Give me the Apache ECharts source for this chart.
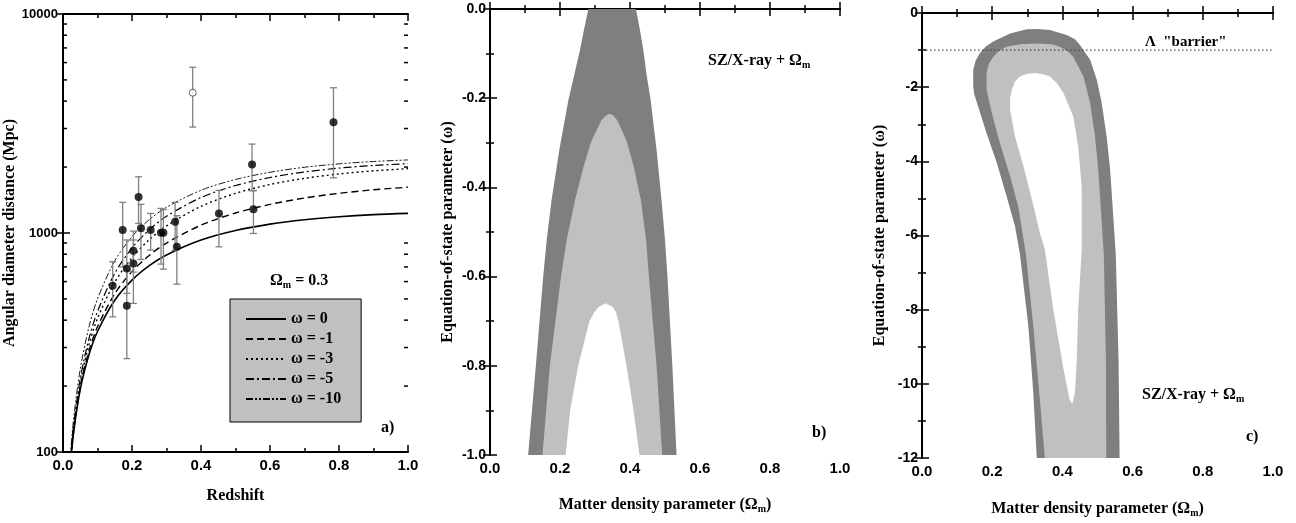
<!DOCTYPE html>
<html><head><meta charset="utf-8">
<script src="https://cdn.jsdelivr.net/npm/echarts@6/dist/echarts.min.js"></script>
<style>html,body{margin:0;padding:0;background:#fff}#c{width:1296px;height:523px}</style>
</head><body><div id="c"></div>
<script>
// ---------- Panel a: angular diameter distance vs redshift ----------
const zGrid = [0.02,0.03,0.05,0.075,0.1,0.15,0.2,0.25,0.3,0.4,0.5,0.6,0.7,0.8,0.9,1.0];
const dW0  = [81,120,193,277,355,493,609,709,794,928,1026,1098,1150,1187,1213,1229];
const dW1  = [82,121,197,288,373,528,667,790,900,1086,1234,1351,1444,1518,1575,1619];
const dW3  = [84,125,207,308,407,596,771,932,1077,1324,1517,1665,1777,1861,1923,1967];
const dW5  = [85,129,216,328,438,654,854,1034,1193,1452,1647,1792,1899,1978,2034,2073];
const dW10 = [90,138,239,371,500,746,963,1150,1311,1567,1756,1894,1996,2069,2121,2156];
const curveNames = ['ω = 0','ω = -1','ω = -3','ω = -5','ω = -10'];

const clusterZ  = [0.144,0.173,0.185,0.185,0.204,0.204,0.219,0.226,0.254,0.284,0.291,0.325,0.330,0.452,0.548,0.552,0.784];
const clusterD  = [574,1031,689,465,829,726,1459,1050,1031,1002,1002,1125,865,1229,2057,1282,3200];
const clusterLo = [414,700,530,267,663,477,1106,757,835,721,684,835,584,865,1560,995,1787];
const clusterHi = [739,1380,929,677,1020,929,1806,1351,1229,1295,1280,1380,1200,1565,2547,1560,4605];
const outlierZ = [0.376], outlierD = [4370], outlierLo = [3047], outlierHi = [5710];

const logMinorTicks = [200,300,400,500,600,700,800,900,2000,3000,4000,5000,6000,7000,8000,9000];

// ---------- Panel b: (Omega_m, w) confidence regions ----------
const bOuter = [[0.109,-1],[0.131,-0.8],[0.152,-0.6],[0.162,-0.518],[0.176,-0.428],[0.198,-0.316],[0.224,-0.204],[0.24,-0.15],[0.257,-0.092],[0.269,-0.045],[0.281,0],
                [0.417,0],[0.428,-0.045],[0.438,-0.092],[0.448,-0.15],[0.459,-0.204],[0.476,-0.316],[0.49,-0.428],[0.50,-0.518],[0.507,-0.6],[0.521,-0.8],[0.533,-1]];
const bMiddle = [[0.150,-1],[0.171,-0.8],[0.203,-0.6],[0.219,-0.518],[0.243,-0.428],[0.267,-0.354],[0.288,-0.3],[0.30,-0.279],[0.318,-0.25],[0.33,-0.24],[0.341,-0.235],
                 [0.352,-0.238],[0.364,-0.25],[0.381,-0.279],[0.392,-0.3],[0.411,-0.354],[0.431,-0.428],[0.446,-0.518],[0.454,-0.6],[0.476,-0.8],[0.492,-1]];
const bInner = [[0.216,-1],[0.229,-0.9],[0.252,-0.8],[0.284,-0.7],[0.298,-0.68],[0.31,-0.668],[0.33,-0.66],[0.351,-0.668],[0.36,-0.68],[0.367,-0.7],[0.39,-0.8],[0.41,-0.9],[0.427,-1]];

// ---------- Panel c ----------
const cOuter = [[0.327,-12],[0.317,-10.23],[0.303,-8.44],[0.279,-6.5],[0.265,-5.75],[0.241,-4.94],[0.213,-4.04],[0.184,-3.24],[0.160,-2.52],
                [0.149,-2.2],[0.146,-1.98],[0.146,-1.53],[0.153,-1.28],[0.165,-1.08],[0.182,-0.9],[0.203,-0.77],[0.251,-0.55],[0.298,-0.44],[0.33,-0.43],[0.365,-0.46],[0.412,-0.59],[0.435,-0.7],[0.45,-0.86],
                [0.479,-1.26],[0.498,-1.80],[0.512,-2.43],[0.526,-3.33],[0.536,-4.22],[0.543,-5.21],[0.552,-6.5],[0.56,-9.34],[0.563,-12]];
const cMiddle = [[0.35,-12],[0.334,-10.23],[0.317,-8.44],[0.296,-6.5],[0.274,-5.21],[0.251,-4.40],[0.222,-3.51],[0.199,-2.70],[0.184,-2.07],
                 [0.184,-1.62],[0.19,-1.38],[0.203,-1.18],[0.22,-1.02],[0.241,-0.91],[0.28,-0.84],[0.327,-0.82],[0.37,-0.84],[0.393,-0.91],[0.415,-1.03],[0.431,-1.18],[0.46,-1.71],
                 [0.479,-2.43],[0.493,-3.33],[0.502,-4.22],[0.509,-5.21],[0.518,-6.5],[0.524,-9.34],[0.525,-12]];
const cInner = [[0.428,-10.55],[0.42,-10.41],[0.403,-9.6],[0.374,-7.99],[0.35,-6.38],[0.336,-5.93],[0.313,-5.03],[0.289,-4.13],[0.265,-3.33],
                [0.251,-2.61],[0.251,-2.3],[0.256,-2.07],[0.265,-1.85],[0.279,-1.71],[0.3,-1.64],[0.322,-1.62],[0.345,-1.65],[0.365,-1.71],[0.385,-1.9],[0.403,-2.16],[0.431,-2.79],[0.445,-3.60],[0.455,-4.67],
                [0.455,-6.38],[0.445,-7.99],[0.441,-9.34],[0.436,-10.23]];
const barrierW = -1;
const barrierX = [0, 1];

// ---------- styling helpers ----------
const SANS = 'Liberation Sans', SERIF = 'Liberation Serif';
const DARK = '#7f7f7f', LIGHT = '#c0c0c0';
const axLine = { show: true, lineStyle: { color: '#000', width: 2 } };
const tickOn = { show: true, inside: true, length: 7, lineStyle: { color: '#000', width: 1.5 } };
const minorOn = { show: true, splitNumber: 2, length: 4, lineStyle: { color: '#000', width: 1.5 } };
const subRich = {
  t: { fontFamily: SERIF, fontWeight: 'bold', fontSize: 16, color: '#000' },
  s: { fontFamily: SERIF, fontWeight: 'bold', fontSize: 10, color: '#000', padding: [9, 0, 0, 0] }
};

function xAxisPair(grid, nameText, nameGap) {
  const base = { type: 'value', gridIndex: grid, min: 0, max: 1, interval: 0.2,
    axisLine: axLine, axisTick: tickOn, minorTick: minorOn, splitLine: { show: false } };
  return [
    Object.assign({}, base, { position: 'bottom', name: nameText, nameLocation: 'middle', nameGap: nameGap,
      nameTextStyle: { rich: subRich, fontFamily: SERIF, fontWeight: 'bold', fontSize: 16, color: '#000' },
      axisLabel: { show: true, margin: 6, fontFamily: SANS, fontWeight: 'bold', fontSize: 15, color: '#000', formatter: v => v.toFixed(1) } }),
    Object.assign({}, base, { position: 'top', axisLabel: { show: false } })
  ];
}
function yAxisPair(grid, min, max, interval, fmt, nameText, nameGap) {
  const base = { type: 'value', gridIndex: grid, min: min, max: max, interval: interval,
    axisLine: axLine, axisTick: tickOn, minorTick: minorOn, splitLine: { show: false } };
  return [
    Object.assign({}, base, { position: 'left', name: nameText, nameLocation: 'middle', nameGap: nameGap,
      nameTextStyle: { fontFamily: SERIF, fontWeight: 'bold', fontSize: 16, color: '#000' },
      axisLabel: { show: true, margin: 4, fontFamily: SANS, fontWeight: 'bold', fontSize: 14, color: '#000', formatter: fmt } }),
    Object.assign({}, base, { position: 'right', axisLabel: { show: false } })
  ];
}

function polySeries(pts, color, xi, yi, z) {
  return { type: 'custom', xAxisIndex: xi, yAxisIndex: yi, z: z, clip: true, silent: true,
    data: pts,
    renderItem: function (params, api) {
      if (params.dataIndex !== 0) return null;
      return { type: 'polygon', shape: { points: pts.map(p => api.coord(p)) }, style: { fill: color, stroke: null } };
    } };
}

function errorSeries(zs, los, his) {
  return { type: 'custom', xAxisIndex: 0, yAxisIndex: 0, z: 3, silent: true,
    data: zs.map((z, i) => [z, los[i], his[i]]),
    renderItem: function (params, api) {
      const x = api.value(0);
      const lo = api.coord([x, api.value(1)]);
      const hi = api.coord([x, api.value(2)]);
      const w = 3.5, st = { stroke: '#808080', lineWidth: 1.3 };
      return { type: 'group', children: [
        { type: 'line', shape: { x1: lo[0], y1: lo[1], x2: hi[0], y2: hi[1] }, style: st },
        { type: 'line', shape: { x1: hi[0] - w, y1: hi[1], x2: hi[0] + w, y2: hi[1] }, style: st },
        { type: 'line', shape: { x1: lo[0] - w, y1: lo[1], x2: lo[0] + w, y2: lo[1] }, style: st }
      ] };
    } };
}

const curveData = [dW0, dW1, dW3, dW5, dW10];
const curveStyles = [
  { type: 'solid', width: 1.6 },
  { type: [7, 4], width: 1.4 },
  { type: [2, 3], width: 1.4 },
  { type: [8, 3, 2, 3], width: 1.2 },
  { type: [7, 2, 2, 2, 2, 2], width: 0.9 }
];
const curveSeries = curveData.map((arr, k) => ({
  type: 'line', name: curveNames[k], xAxisIndex: 0, yAxisIndex: 0, z: 2,
  data: zGrid.map((z, i) => [z, arr[i]]), symbol: 'none', showSymbol: false, smooth: 0.3, silent: true,
  itemStyle: { color: 'rgba(0,0,0,0)' },
  lineStyle: Object.assign({ color: '#000' }, curveStyles[k])
}));

const logAxisBase = { type: 'log', gridIndex: 0, min: 100, max: 10000, logBase: 10,
  axisLine: axLine, axisTick: tickOn, splitLine: { show: false } };

const xA = xAxisPair(0, 'Redshift', 36);
const xB = xAxisPair(1, '{t|Matter density parameter (Ω}{s|m}{t|)}', 40);
const xC = xAxisPair(2, '{t|Matter density parameter (Ω}{s|m}{t|)}', 41);
const yB = yAxisPair(1, -1, 0, 0.2, v => v.toFixed(1), 'Equation-of-state parameter (ω)', 34);
const yC = yAxisPair(2, -12, 0, 2, v => String(v), 'Equation-of-state parameter (ω)', 34);

const option = {
  animation: false,
  backgroundColor: '#fff',
  grid: [
    { left: 63, top: 14, width: 345, height: 438 },
    { left: 490, top: 9, width: 350, height: 446 },
    { left: 922, top: 13, width: 351, height: 446 }
  ],
  xAxis: [xA[0], xA[1], xB[0], xB[1], xC[0], xC[1]],
  yAxis: [
    Object.assign({}, logAxisBase, { position: 'left', name: 'Angular diameter distance (Mpc)', nameLocation: 'middle', nameGap: 38,
      nameTextStyle: { fontFamily: SERIF, fontWeight: 'bold', fontSize: 16, color: '#000' },
      axisLabel: { show: true, margin: 5, fontFamily: SANS, fontWeight: 'bold', fontSize: 13, color: '#000', formatter: v => String(Math.round(v)) } }),
    Object.assign({}, logAxisBase, { position: 'right', axisLabel: { show: false } }),
    yB[0], yB[1], yC[0], yC[1]
  ],
  legend: {
    data: curveNames, orient: 'vertical', left: 230, top: 299,
    padding: [12, 20, 15, 15], itemWidth: 40, itemHeight: 14, itemGap: 4,
    itemStyle: { color: 'rgba(0,0,0,0)', borderWidth: 0, opacity: 0 },
    backgroundColor: '#c0c0c0', borderColor: '#000', borderWidth: 1, borderRadius: 0, selectedMode: false,
    textStyle: { fontFamily: SERIF, fontWeight: 'bold', fontSize: 16, color: '#000' }
  },
  series: [
    { type: 'custom', xAxisIndex: 0, yAxisIndex: 0, silent: true, z: 5,
      data: logMinorTicks.map(v => [0.5, v]),
      renderItem: function (params, api) {
        const y = api.coord([0.5, api.value(1)])[1];
        const cs = params.coordSys, st = { stroke: '#000', lineWidth: 1.5 };
        return { type: 'group', children: [
          { type: 'line', shape: { x1: cs.x, y1: y, x2: cs.x + 4, y2: y }, style: st },
          { type: 'line', shape: { x1: cs.x + cs.width - 4, y1: y, x2: cs.x + cs.width, y2: y }, style: st }
        ] };
      } },
    ...curveSeries,
    errorSeries(clusterZ, clusterLo, clusterHi),
    errorSeries(outlierZ, outlierLo, outlierHi),
    { type: 'scatter', xAxisIndex: 0, yAxisIndex: 0, z: 4, silent: true, symbol: 'circle', symbolSize: 8,
      data: clusterZ.map((z, i) => [z, clusterD[i]]), itemStyle: { color: '#000' } },
    { type: 'scatter', xAxisIndex: 0, yAxisIndex: 0, z: 4, silent: true, symbol: 'circle', symbolSize: 7,
      data: outlierZ.map((z, i) => [z, outlierD[i]]), itemStyle: { color: '#fff', borderColor: '#444', borderWidth: 1 } },
    polySeries(bOuter, DARK, 2, 2, 1),
    polySeries(bMiddle, LIGHT, 2, 2, 2),
    polySeries(bInner, '#fff', 2, 2, 3),
    polySeries(cOuter, DARK, 4, 4, 1),
    polySeries(cMiddle, LIGHT, 4, 4, 2),
    polySeries(cInner, '#fff', 4, 4, 3),
    { type: 'line', xAxisIndex: 4, yAxisIndex: 4, z: 6, silent: true, symbol: 'none',
      data: barrierX.map(x => [x, barrierW]), lineStyle: { color: '#444', width: 1.2, type: [1.5, 2.5] } }
  ],
  graphic: [
    { type: 'text', left: 270, top: 273, style: { text: '{t|Ω}{s|m}{t| = 0.3}', rich: subRich } },
    { type: 'text', left: 381, top: 420, style: { text: 'a)', fontFamily: SERIF, fontWeight: 'bold', fontSize: 16, fill: '#000' } },
    { type: 'text', left: 812, top: 425, style: { text: 'b)', fontFamily: SERIF, fontWeight: 'bold', fontSize: 16, fill: '#000' } },
    { type: 'text', left: 1246, top: 429, style: { text: 'c)', fontFamily: SERIF, fontWeight: 'bold', fontSize: 16, fill: '#000' } },
    { type: 'text', left: 708, top: 53, style: { text: '{t|SZ/X-ray + Ω}{s|m}', rich: subRich } },
    { type: 'text', left: 1142, top: 387, style: { text: '{t|SZ/X-ray + Ω}{s|m}', rich: subRich } },
    { type: 'text', left: 1145, top: 35, style: { text: 'Λ  "barrier"', fontFamily: SERIF, fontWeight: 'bold', fontSize: 15, fill: '#000' } }
  ]
};

const chart = echarts.init(document.getElementById('c'), null, { renderer: 'canvas' });
chart.setOption(option);
</script>
</body></html>
